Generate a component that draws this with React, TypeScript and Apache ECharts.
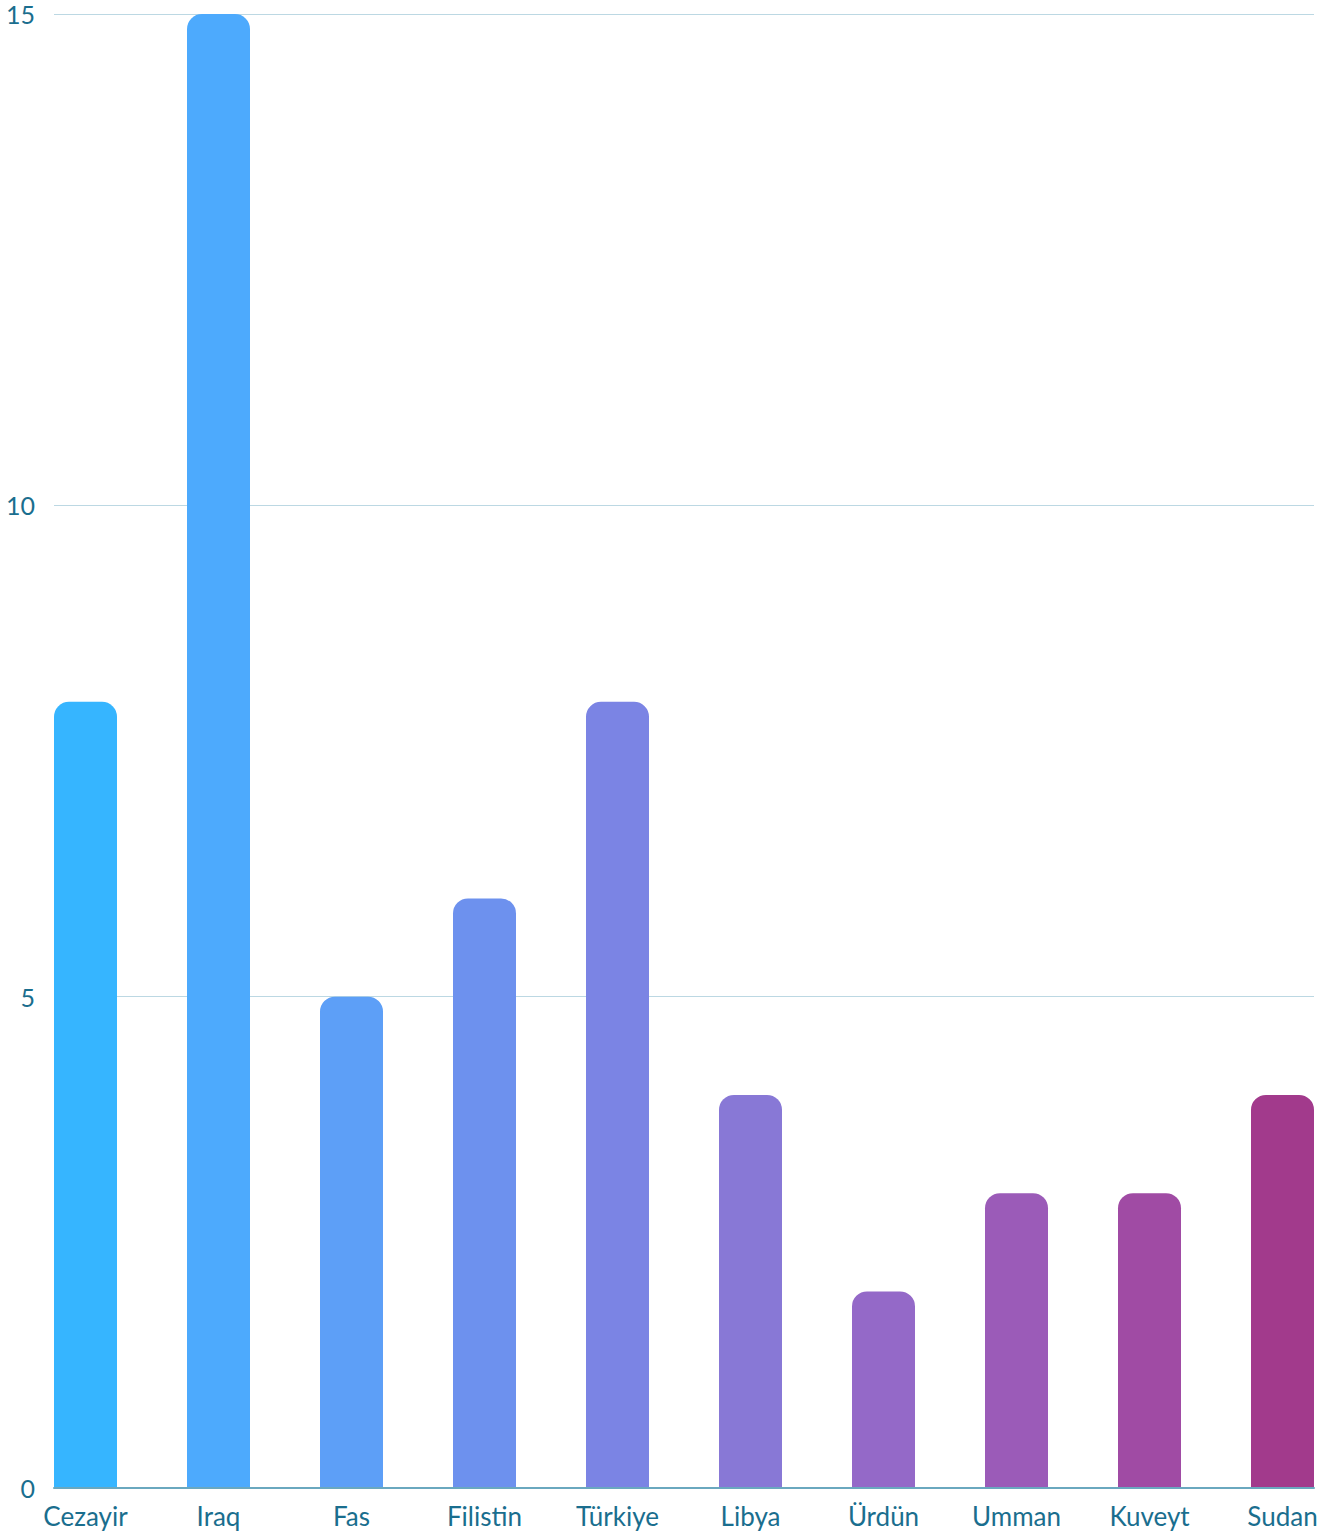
import React, { useEffect, useRef } from "react";
import * as echarts from "echarts";

const categories = ["Cezayir", "Iraq", "Fas", "Filistin", "Türkiye", "Libya", "Ürdün", "Umman", "Kuveyt", "Sudan"];
const values = [8, 15, 5, 6, 8, 4, 2, 3, 3, 4];
const barColors = ["#36b5ff", "#4daafd", "#5d9ff7", "#6d91ee", "#7b84e4", "#8878d6", "#9469c8", "#9b5bb8", "#a04ba4", "#a23a8c"];
const yTicks = { min: 0, max: 15, interval: 5 };

const textColor = "#1a6e8e";
const font = "Lato, 'Noto Sans', sans-serif";

export default function App() {
  const ref = useRef<HTMLDivElement>(null);
  useEffect(() => {
    document.body.style.margin = "0";
    const chart = echarts.init(ref.current!, undefined, { renderer: "svg" });
    chart.setOption({
      animation: false,
      backgroundColor: "#ffffff",
      grid: [
        { left: 54, right: 9, top: 14, bottom: 50 },
        { left: 85.5, right: 40.5, top: 14, bottom: 50 },
      ],
      xAxis: [
        {
          gridIndex: 0,
          type: "value",
          min: 0,
          max: 1,
          z: 5,
          axisLine: { show: true, lineStyle: { color: "#6aa8bf", width: 2 } },
          axisTick: { show: false },
          axisLabel: { show: false },
          splitLine: { show: false },
        },
        {
          gridIndex: 1,
          type: "category",
          data: categories,
          boundaryGap: false,
          axisLine: { show: false },
          axisTick: { show: false },
          splitLine: { show: false },
          axisLabel: { fontSize: 26, color: textColor, fontFamily: font, margin: 15, interval: 0 },
        },
      ],
      yAxis: [
        {
          gridIndex: 0,
          type: "value",
          min: yTicks.min,
          max: yTicks.max,
          interval: yTicks.interval,
          axisLine: { show: false },
          axisTick: { show: false },
          axisLabel: { fontSize: 25, color: textColor, fontFamily: font, margin: 19 },
          splitLine: { show: true, lineStyle: { color: "#bcd8e3", width: 1 } },
        },
        {
          gridIndex: 1,
          type: "value",
          min: yTicks.min,
          max: yTicks.max,
          interval: yTicks.interval,
          show: false,
          splitLine: { show: false },
        },
      ],
      series: [
        {
          type: "bar",
          xAxisIndex: 1,
          yAxisIndex: 1,
          barWidth: 63,
          data: values.map((v, i) => ({
            value: v,
            itemStyle: { color: barColors[i], borderRadius: [15, 15, 0, 0] },
          })),
        },
      ],
    });
    return () => chart.dispose();
  }, []);
  return <div ref={ref} style={{ width: 1323, height: 1538 }} />;
}
